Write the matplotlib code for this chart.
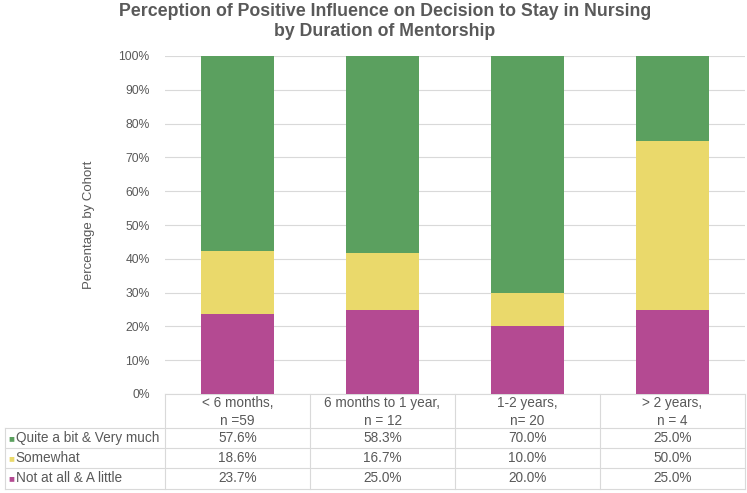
import numpy as np
import matplotlib
matplotlib.use("Agg")
import matplotlib.pyplot as plt

plt.rcParams['font.family'] = ['Liberation Sans', 'DejaVu Sans']

categories = ["< 6 months,\nn =59", "6 months to 1 year,\nn = 12", "1-2 years,\nn= 20", "> 2 years,\nn = 4"]
series_names = ["Quite a bit & Very much", "Somewhat", "Not at all & A little"]
quite = [57.6, 58.3, 70.0, 25.0]
somewhat = [18.6, 16.7, 10.0, 50.0]
not_at_all = [23.7, 25.0, 20.0, 25.0]

c_green = "#5BA05F"
c_yellow = "#EAD96B"
c_mag = "#B44A92"
txt = "#595959"
grid = "#D9D9D9"

W, H = 747, 493
fig = plt.figure(figsize=(W / 100, H / 100), dpi=100)
ax = fig.add_axes([165 / W, (H - 394) / H, 580 / W, (394 - 56) / H])

x = np.arange(len(categories))
b1 = np.array(not_at_all)
b2 = b1 + np.array(somewhat)
ax.bar(x, not_at_all, width=0.5, color=c_mag, zorder=3)
ax.bar(x, somewhat, width=0.5, bottom=b1, color=c_yellow, zorder=3)
ax.bar(x, 100 - b2, width=0.5, bottom=b2, color=c_green, zorder=3)

ax.set_xlim(-0.5, 3.5)
ax.set_ylim(0, 100)
ax.set_yticks(np.arange(0, 101, 10))
ax.set_yticklabels([f"{v}%" for v in range(0, 101, 10)], color=txt, fontsize=8.7)
ax.set_xticks([])
ax.yaxis.grid(True, color=grid, linewidth=0.8, zorder=0)
ax.tick_params(axis="y", length=0, pad=11)
for s in ["top", "right", "left"]:
    ax.spines[s].set_visible(False)
ax.spines["bottom"].set_color(grid)
ax.set_ylabel("Percentage by Cohort", color=txt, fontsize=9.5, labelpad=17)

fig.text(385 / W, 1 - 12 / H, "Perception of Positive Influence on Decision to Stay in Nursing",
         ha="center", va="center", fontsize=12.8, fontweight="bold", color=txt)
fig.text(385 / W, 1 - 32 / H, "by Duration of Mentorship",
         ha="center", va="center", fontsize=12.8, fontweight="bold", color=txt)

# data table below the axis (x in data units, y in axes fraction)
tr = ax.get_xaxis_transform()
ah = 394 - 56
def fy(px):
    return -(px - 394) / ah
xl = (5 - 165) / 580 * 4 - 0.5
row_edges = [394, 428, 448, 468, 489]
for xv in np.arange(-0.5, 4.0, 1.0):
    ax.plot([xv, xv], [0, fy(489)], color=grid, lw=0.8, clip_on=False, transform=tr)
ax.plot([xl, xl], [fy(428), fy(489)], color=grid, lw=0.8, clip_on=False, transform=tr)
for yp in row_edges[1:]:
    ax.plot([xl, 3.5], [fy(yp), fy(yp)], color=grid, lw=0.8, clip_on=False, transform=tr)

for i, cat in enumerate(categories):
    ax.text(i, fy(412), cat, ha="center", va="center", fontsize=9.8, color=txt,
            linespacing=1.3, clip_on=False, transform=tr)

rows = [quite, somewhat, not_at_all]
colors = [c_green, c_yellow, c_mag]
for r, (name, vals, col) in enumerate(zip(series_names, rows, colors)):
    yc = fy((row_edges[r + 1] + row_edges[r + 2]) / 2)
    ax.text(xl + 0.025, yc, "■", ha="left", va="center", fontsize=7,
            color=col, clip_on=False, transform=tr)
    ax.text(xl + 0.075, yc, name, ha="left", va="center", fontsize=9.8,
            color=txt, clip_on=False, transform=tr)
    for i, v in enumerate(vals):
        ax.text(i, yc, f"{v:.1f}%", ha="center", va="center", fontsize=9.8,
                color=txt, clip_on=False, transform=tr)

fig.savefig("out.png", dpi=100)
